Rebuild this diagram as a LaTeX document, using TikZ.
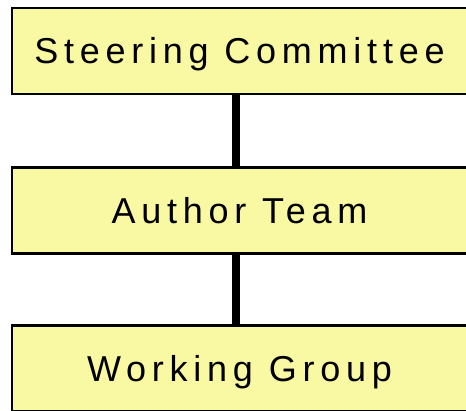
\documentclass[tikz,border=0pt]{standalone}
\usepackage{fontspec}
\setmainfont{Liberation Sans}[LetterSpace=16]
\usepackage{tikz}
\usetikzlibrary{positioning}
\definecolor{paleyellow}{RGB}{250,249,163}
\tikzstyle{stage}=[draw=black,fill=paleyellow,line width=2.5pt,rectangle,minimum width=455pt,minimum height=86pt,inner sep=0pt,text height=26pt,text depth=0pt,font=\fontsize{36}{40}\selectfont]
\tikzstyle{link}=[line width=8pt]

\begin{document}
\begin{tikzpicture}[x=1pt,y=1pt]
\clip (0,0) rectangle (466,410);
\draw (239.5, 359) node [stage] (steer) {Steering Committee};
\draw (239.5, 199.5) node [stage] (author) {Author Team};
\draw (239.5, 41.5) node [stage] (work) {Working Group};
\draw[link] ([xshift=-3.5pt]steer.south) -- ([xshift=-3.5pt]author.north);
\draw[link] ([xshift=-3.5pt]author.south) -- ([xshift=-3.5pt]work.north);
\end{tikzpicture}
\end{document}
